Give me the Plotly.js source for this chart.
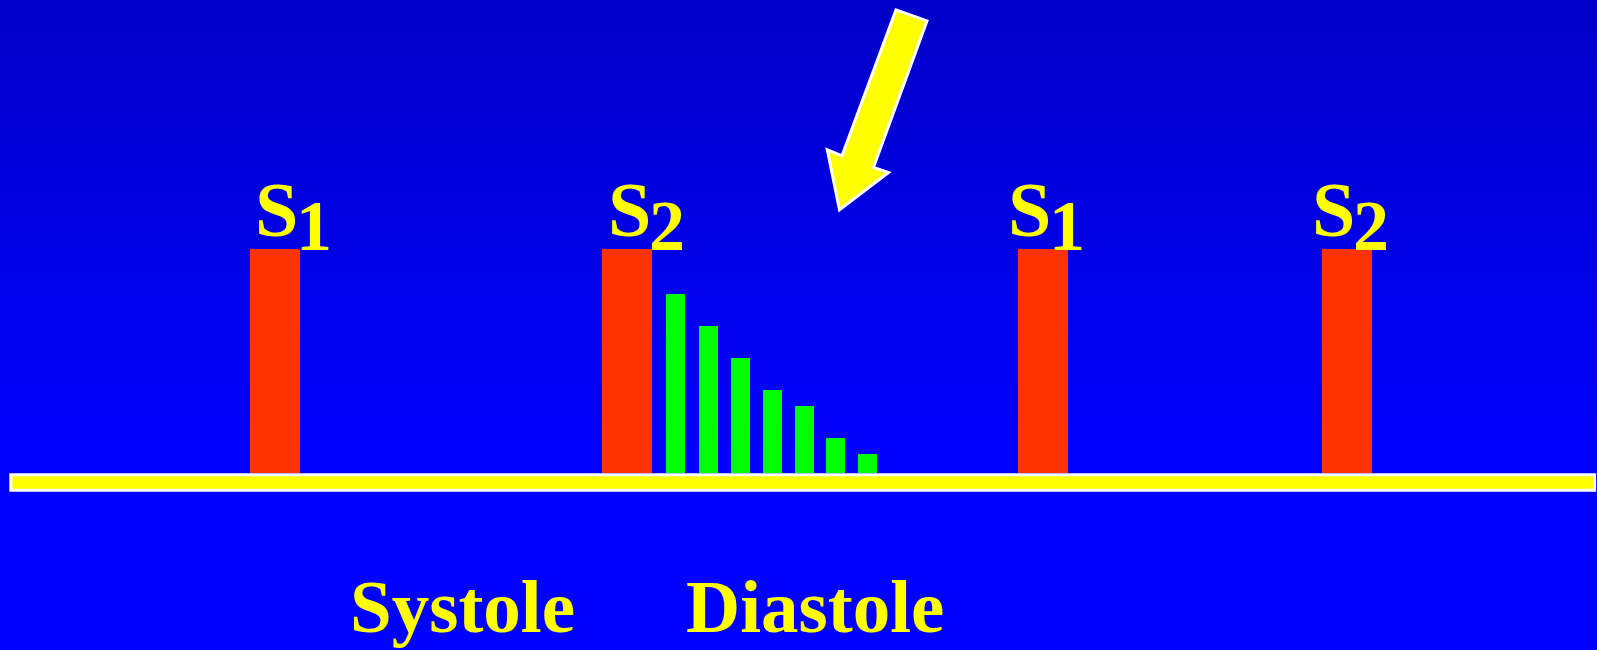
<!DOCTYPE html>
<html>
<head>
<meta charset="utf-8">
<script src="https://cdn.plot.ly/plotly-3.0.1.min.js"></script>
<style>
  html, body { margin: 0; padding: 0; width: 1597px; height: 650px; overflow: hidden; }
  body { background: linear-gradient(to bottom, #0000C8 0px, #0000FF 460px, #0000FF 650px); }
  #chart { width: 1597px; height: 650px; }
</style>
</head>
<body>
<div id="chart"></div>
<script>
// ---- data ----
const soundNames = ['S', 'S', 'S', 'S'];
const soundNumbers = ['1', '2', '1', '2'];
const soundTimes = [275, 627, 1043, 1347];
const soundAmplitude = [224, 224, 224, 224];
const labelTimes = [276, 629, 1029, 1333];

const murmurTimes = [675, 708.4, 740.2, 772.2, 804.2, 835, 867];
const murmurAmplitude = [179, 147, 115, 83, 67, 35, 19];

const phaseLabels = ['Systole', 'Diastole'];
const phaseTimes = [462, 815];

// ---- style ----
const YELLOW = '#FFFF00';
const serif = '"Liberation Serif", "Times New Roman", serif';
const digitOffset = 37.5;

const traces = [
  {
    type: 'bar', x: soundTimes, y: soundAmplitude, base: 0,
    width: 50, marker: { color: '#FF3300', line: { width: 0 } },
    hoverinfo: 'skip', showlegend: false
  },
  {
    type: 'bar', x: murmurTimes, y: murmurAmplitude, base: 0,
    width: 19, marker: { color: '#00FF00', line: { width: 0 } },
    hoverinfo: 'skip', showlegend: false
  }
];

const annotations = [];
labelTimes.forEach((t, i) => {
  annotations.push({
    x: t, y: 263.5, xref: 'x', yref: 'y', text: '<b>' + soundNames[i] + '</b>',
    showarrow: false, xanchor: 'center', yanchor: 'middle', borderpad: 0,
    font: { family: serif, size: 78, color: YELLOW }
  });
  annotations.push({
    x: t + digitOffset, y: 247.6, xref: 'x', yref: 'y', text: '<b>' + soundNumbers[i] + '</b>',
    showarrow: false, xanchor: 'center', yanchor: 'middle', borderpad: 0,
    font: { family: serif, size: 72, color: YELLOW }
  });
});
phaseLabels.forEach((lab, i) => {
  annotations.push({
    x: phaseTimes[i], y: -133.5, xref: 'x', yref: 'y', text: '<b>' + lab + '</b>',
    showarrow: false, xanchor: 'center', yanchor: 'middle', borderpad: 0,
    font: { family: serif, size: 75, color: YELLOW }
  });
});

const shapes = [
  // time axis (baseline)
  {
    type: 'rect', xref: 'x', yref: 'y', x0: 10.8, x1: 1594.6, y0: -16.9, y1: -1.5,
    fillcolor: YELLOW, line: { color: '#FFFFFF', width: 3 }, layer: 'below'
  },
  // pointer arrow
  {
    type: 'path', xref: 'x', yref: 'y',
    path: 'M 896,463.5 L 927,452.5 L 873.5,306 L 888.5,300.8 L 839.5,263.5 L 827.3,323.5 L 842,317.5 Z',
    fillcolor: YELLOW, line: { color: '#FFFFFF', width: 3 }
  }
];

const layout = {
  width: 1597, height: 650,
  margin: { l: 0, r: 0, t: 0, b: 0, pad: 0 },
  paper_bgcolor: 'rgba(0,0,0,0)', plot_bgcolor: 'rgba(0,0,0,0)',
  xaxis: { range: [0, 1597], visible: false, fixedrange: true },
  yaxis: { range: [-176.7, 473.3], visible: false, fixedrange: true },
  bargap: 0, barmode: 'overlay',
  annotations: annotations,
  shapes: shapes,
  showlegend: false
};

Plotly.newPlot('chart', traces, layout, { staticPlot: true });
</script>
</body>
</html>
